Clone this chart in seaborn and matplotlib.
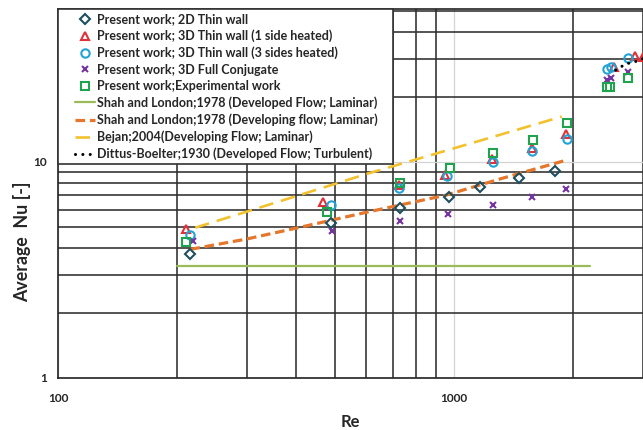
import numpy as np
import pandas as pd
import seaborn as sns
import matplotlib
matplotlib.use("Agg")
import matplotlib.pyplot as plt
from matplotlib.ticker import LogLocator, NullFormatter, FixedLocator, FixedFormatter
from matplotlib.patches import Rectangle

# ---------------- data ----------------
re_2d = [216, 488, 730, 970, 1163, 1459, 1799]
nu_2d = [3.74, 5.2, 6.14, 6.91, 7.64, 8.40, 9.09]

re_3d1 = [210, 466, 728, 949, 1250, 1570, 1915, 2540, 2860, 3000]
nu_3d1 = [4.9, 6.55, 7.8, 8.7, 10.3, 11.65, 13.5, 27.6, 31.0, 30.5]

re_3d3 = [216, 488, 726, 958, 1257, 1575, 1925, 2433, 2492, 2746]
nu_3d3 = [4.59, 6.32, 7.55, 8.61, 9.97, 11.28, 12.73, 26.9, 27.5, 30.4]

re_conj = [219, 493, 730, 968, 1252, 1570, 1920, 2433, 2492, 2746]
nu_conj = [4.32, 4.8, 5.33, 5.73, 6.32, 6.91, 7.47, 24.0, 24.4, 26.2]

re_exp = [211, 477, 730, 977, 1257, 1580, 1925, 2433, 2481, 2755]
nu_exp = [4.28, 5.89, 7.95, 9.35, 11.04, 12.64, 15.2, 22.1, 22.3, 24.4]

re_shah_dev = [200, 2200]
nu_shah_dev = [3.31, 3.31]

re_shah_devp = [216, 300, 408, 602, 958, 1307, 1925]
nu_shah_devp = [3.94, 4.4, 4.98, 5.85, 7.03, 8.34, 10.2]

re_bejan = [222, 300, 408, 602, 1871]
nu_bejan = [4.96, 5.89, 7.03, 8.8, 16.2]

re_dittus = [2560, 2714, 2866, 2997]
nu_dittus = [26.6, 28.4, 29.1, 30.0]

labels = [
    "Present work; 2D Thin wall",
    "Present work; 3D Thin wall (1 side heated)",
    "Present work; 3D Thin wall (3 sides heated)",
    "Present work; 3D Full Conjugate",
    "Present work;Experimental work",
    "Shah and London;1978 (Developed Flow; Laminar)",
    "Shah and London;1978 (Developing flow; Laminar)",
    "Bejan;2004(Developing Flow; Laminar)",
    "Dittus-Boelter;1930 (Developed Flow; Turbulent)",
]
x_ticks = [100, 1000]
x_tick_labels = ["100", "1000"]
y_ticks = [1, 10]
y_tick_labels = ["1", "10"]

# ---------------- style ----------------
sns.set_style("white")
plt.rcParams["font.family"] = ["Lato", "DejaVu Sans"]
plt.rcParams["font.weight"] = "bold"

fig = plt.figure(figsize=(6.43, 4.30), dpi=100)
W, H = 643, 430
ax_l, ax_r, ax_t, ax_b = 58, 643, 9, 378
ax = fig.add_axes([ax_l / W, 1 - ax_b / H, (ax_r - ax_l) / W, (ax_b - ax_t) / H])

def markers(x, y, marker, color, ms, label, z=4):
    sns.lineplot(x=x, y=y, ax=ax, estimator=None, sort=False, linestyle="none",
                 marker=marker, markersize=ms, markerfacecolor="none",
                 markeredgecolor=color, markeredgewidth=1.5, color=color,
                 label=label, zorder=z)

markers(re_2d, nu_2d, "D", "#1f4f5e", 4.8, labels[0])
markers(re_3d1, nu_3d1, "^", "#e0303a", 6.0, labels[1])
markers(re_3d3, nu_3d3, "o", "#22a3d6", 6.0, labels[2])
markers(re_conj, nu_conj, "x", "#7434a0", 5.0, labels[3])
markers(re_exp, nu_exp, "s", "#1fa34f", 5.2, labels[4])

sns.lineplot(x=re_shah_dev, y=nu_shah_dev, ax=ax, estimator=None, sort=False,
             color="#9bbb59", linewidth=1.6, label=labels[5], zorder=3)
sns.lineplot(x=re_shah_devp, y=nu_shah_devp, ax=ax, estimator=None, sort=False,
             color="#e4772c", linewidth=2.3, label=labels[6], zorder=3)
ax.lines[-1].set_dashes((3.0, 1.5))
sns.lineplot(x=re_bejan, y=nu_bejan, ax=ax, estimator=None, sort=False,
             color="#f2c12e", linewidth=1.9, label=labels[7], zorder=3)
ax.lines[-1].set_dashes((5.5, 3.0))
sns.lineplot(x=re_dittus, y=nu_dittus, ax=ax, estimator=None, sort=False,
             color="black", linewidth=2.2, label=labels[8], zorder=4)
ax.lines[-1].set_dashes((0.01, 2.4))
ax.lines[-1].set_dash_capstyle("round")

ax.set_xscale("log")
ax.set_yscale("log")
ax.set_xlim(100, 3000)
ax.set_ylim(1, 51)

ax.xaxis.set_major_locator(FixedLocator(x_ticks))
ax.xaxis.set_major_formatter(FixedFormatter(x_tick_labels))
ax.yaxis.set_major_locator(FixedLocator(y_ticks))
ax.yaxis.set_major_formatter(FixedFormatter(y_tick_labels))
ax.xaxis.set_minor_locator(LogLocator(base=10, subs=np.arange(2, 10)))
ax.yaxis.set_minor_locator(LogLocator(base=10, subs=np.arange(2, 10)))
ax.xaxis.set_minor_formatter(NullFormatter())
ax.yaxis.set_minor_formatter(NullFormatter())

ax.grid(which="minor", color="#2e2e2e", linewidth=1.15, zorder=0)
ax.grid(which="major", color="#d4d4d4", linewidth=0.9, zorder=0)
ax.set_axisbelow(True)
ax.tick_params(which="minor", length=0)
ax.tick_params(axis="y", which="major", length=4, color="#888888", pad=4, labelsize=8.6)
ax.tick_params(axis="x", which="major", length=3, color="#bbbbbb", pad=8, labelsize=8.6)
for t in ax.get_xticklabels() + ax.get_yticklabels():
    t.set_fontweight("bold")

for s in ["left", "bottom", "top"]:
    ax.spines[s].set_color("#222222")
    ax.spines[s].set_linewidth(1.2)
ax.spines["right"].set_visible(False)

ax.set_xlabel("Re", fontsize=12, fontweight="bold", va="center")
ax.xaxis.set_label_coords(0.5, -(422 - ax_b) / (ax_b - ax_t))
ax.set_ylabel("Average  Nu [-]", fontsize=12.8, fontweight="bold", va="center")
ax.yaxis.set_label_coords(-(ax_l - 22) / (ax_r - ax_l), (ax_b - 242) / (ax_b - ax_t))

# legend box
box_w = (393 - ax_l) / (ax_r - ax_l)
box_h = (164 - ax_t) / (ax_b - ax_t)
ax.add_patch(Rectangle((0, 1 - box_h), box_w, box_h, transform=ax.transAxes,
                       facecolor="white", edgecolor="#333333", linewidth=1.2,
                       zorder=5, clip_on=False))
handles, labs = ax.get_legend_handles_labels()
leg = ax.legend(handles, labs, loc="upper left",
                bbox_to_anchor=((75 - ax_l) / (ax_r - ax_l), 1 - (13 - ax_t) / (ax_b - ax_t)),
                borderaxespad=0, borderpad=0, frameon=False,
                handlelength=1.6, handletextpad=0.15, labelspacing=0.35,
                numpoints=1, prop={"weight": "bold", "size": 9.0})
leg.set_zorder(6)

fig.savefig("out.png", dpi=100)
